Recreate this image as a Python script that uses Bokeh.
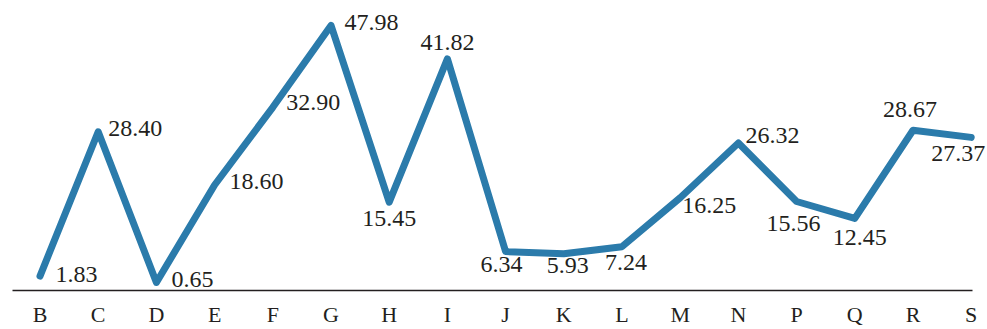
from bokeh.plotting import figure
from bokeh.models import ColumnDataSource, LabelSet, Range1d, FixedTicker
from bokeh.core.properties import value
from bokeh.embed import file_html
from bokeh.resources import INLINE

# Series data
categories = ["B", "C", "D", "E", "F", "G", "H", "I", "J", "K", "L", "M", "N", "P", "Q", "R", "S"]
values = [1.83, 28.40, 0.65, 18.60, 32.90, 47.98, 15.45, 41.82, 6.34, 5.93, 7.24,
          16.25, 26.32, 15.56, 12.45, 28.67, 27.37]
value_labels = [f"{v:.2f}" for v in values]

# Label placement (screen px: right, down) and alignment per point
label_dx = [15.5, 10, 15, 15, 13.5, 13.5, 0, 0, -4, 4, 4, 2, 7, -3, 5, -3, -13]
label_dy = [5.5, 4, 5, 4, 3, 5, 24, -8.5, 20, 19, 23, 15, 0, 29, 27, -13.5, 24]
label_align = ["left"] * 6 + ["center"] * 5 + ["left", "left"] + ["center"] * 4

BLUE = "#2b7bab"
INK = "#231f20"
FONT = "Liberation Serif"

xs = list(range(len(categories)))
src = ColumnDataSource(dict(
    x=xs, y=values, txt=value_labels,
    dx=label_dx, dy=[-d for d in label_dy], align=label_align,
))

p = figure(width=987, height=329, output_backend="svg", toolbar_location=None,
           x_range=Range1d(-0.4725, 16.28), y_range=Range1d(-0.826, 52.57),
           min_border_left=12, min_border_right=0, min_border_top=0,
           min_border_bottom=38)
p.outline_line_color = None
p.background_fill_color = "white"
p.border_fill_color = "white"
p.grid.visible = False
p.yaxis.visible = False

p.line("x", "y", source=src, line_color=BLUE, line_width=7,
       line_cap="round", line_join="round")

labels = LabelSet(x="x", y="y", text="txt", source=src,
                  x_offset="dx", y_offset="dy", text_align="align",
                  text_baseline="alphabetic", text_font=value(FONT),
                  text_font_size="24px", text_color=INK)
p.add_layout(labels)

ax = p.xaxis[0]
ax.ticker = FixedTicker(ticks=xs)
ax.major_label_overrides = {i: c for i, c in enumerate(categories)}
ax.bounds = (-0.4725, 16.02)
ax.axis_line_color = INK
ax.axis_line_width = 1.5
ax.major_tick_line_color = None
ax.minor_tick_line_color = None
ax.major_tick_out = 0
ax.major_tick_in = 0
ax.minor_tick_out = 0
ax.minor_tick_in = 0
ax.major_label_standoff = 11
ax.major_label_text_font = FONT
ax.major_label_text_font_size = "22px"
ax.major_label_text_color = INK

open("out.html", "w").write(file_html(p, INLINE))
